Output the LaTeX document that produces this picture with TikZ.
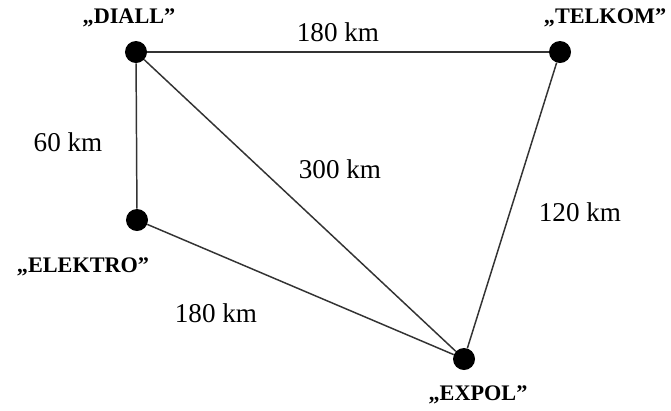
\documentclass[tikz,border=0pt]{standalone}
\usepackage{fontspec}
\setmainfont{Liberation Serif}
\usetikzlibrary{positioning, calc}

\begin{document}
\begin{tikzpicture}[x=0.025cm, y=-0.025cm,
    town/.style={circle, fill=black, inner sep=0pt, minimum size=0.55cm},
    townname/.style={font=\fontsize{15.8}{19}\selectfont\bfseries, inner sep=1pt},
    dist/.style={font=\fontsize{19.3}{23}\selectfont, inner sep=1pt},
    link/.style={draw=black!80, line width=1.05pt}
]
\useasboundingbox (0,0) rectangle (671,410);

\node[town] (diall) at (136,52) {};
\node[town] (telkom) at (560,52) {};
\node[town] (elektro) at (137,220) {};
\node[town] (expol) at (464,359) {};

\node[townname] (diallname) at (129,18) {„DIALL”};
\node[townname] (telkomname) at (605,18) {„TELKOM”};
\node[townname] (elektroname) at (83,267) {„ELEKTRO”};
\node[townname] (expolname) at (478,395) {„EXPOL”};

\draw[link] (diall) -- (telkom);
\draw[link] (diall) -- (elektro);
\draw[link] (diall) -- (expol);
\draw[link] (elektro) -- (expol);
\draw[link] (telkom) -- (expol);

\node[dist] (dtop) at (338,32) {180 km};
\node[dist] (dleft) at (68,142) {60 km};
\node[dist] (dmid) at (340,169) {300 km};
\node[dist] (dright) at (580,212) {120 km};
\node[dist] (dlow) at (216,313) {180 km};
\end{tikzpicture}
\end{document}
